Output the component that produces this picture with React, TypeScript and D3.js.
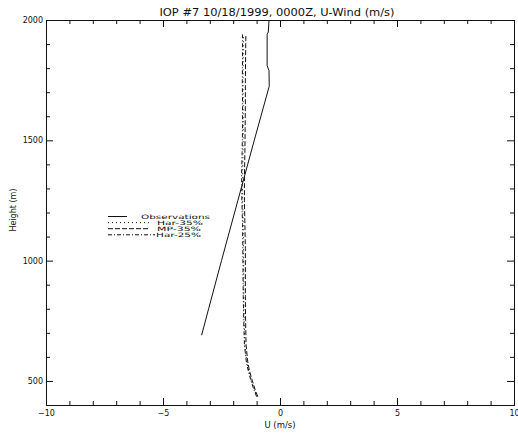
import React from 'react';
import * as d3 from 'd3';

// chart frame (px)
const W = 518, H = 434;
const margin = { top: 20, right: 4, bottom: 29, left: 46 };

// observations (solid)
const obsHeight = [2000, 1950, 1940, 1810, 1790, 1725, 1500, 1250, 1000, 800, 690];
const obsU = [-0.47, -0.5, -0.55, -0.55, -0.47, -0.46, -1.1, -1.8, -2.5, -3.05, -3.35];

// model runs share the same levels
const modelHeight = [435, 460, 500, 540, 580, 650, 750, 850, 950, 1050, 1150, 1250, 1350, 1450, 1550, 1650, 1750, 1850, 1940];
const har35U = [-0.98, -1.08, -1.22, -1.33, -1.42, -1.5, -1.53, -1.55, -1.55, -1.56, -1.57, -1.6, -1.6, -1.58, -1.57, -1.57, -1.58, -1.57, -1.56];
const mp35U = [-0.95, -1.05, -1.18, -1.3, -1.38, -1.45, -1.47, -1.48, -1.48, -1.48, -1.5, -1.52, -1.52, -1.5, -1.49, -1.48, -1.48, -1.47, -1.46];
const har25U = [-1.0, -1.1, -1.24, -1.35, -1.44, -1.52, -1.55, -1.57, -1.58, -1.59, -1.6, -1.63, -1.64, -1.62, -1.6, -1.6, -1.61, -1.6, -1.6];

const xMajor = [-10, -5, 0, 5, 10];
const xMinor = [-9, -8, -7, -6, -4, -3, -2, -1, 1, 2, 3, 4, 6, 7, 8, 9];
const yMajor = [500, 1000, 1500, 2000];
const yMinor = [600, 700, 800, 900, 1100, 1200, 1300, 1400, 1600, 1700, 1800, 1900];

const series = [
  { name: 'Observations', h: obsHeight, u: obsU, dash: null, len: 19, tx: 141, tw: 69 },
  { name: 'Har-35%', h: modelHeight, u: har35U, dash: '1,3', len: 44, tx: 157, tw: 46 },
  { name: 'MP-35%', h: modelHeight, u: mp35U, dash: '5,2', len: 42, tx: 157, tw: 44 },
  { name: 'Har-25%', h: modelHeight, u: har25U, dash: '4,2,1,2', len: 47, tx: 156, tw: 45 },
];

const font = '"DejaVu Sans", sans-serif';

function App() {
  const svgRef = React.useRef<SVGSVGElement>(null);

  React.useEffect(() => {
    document.body.style.margin = '0';
    const x = d3.scaleLinear().domain([-10, 10]).range([margin.left, W - margin.right]);
    const y = d3.scaleLinear().domain([400, 2000]).range([H - margin.bottom, margin.top]);

    const svg = d3.select(svgRef.current);
    svg.selectAll('*').remove();

    const styleAxis = (g: any) => {
      g.selectAll('path').attr('stroke', '#111').attr('stroke-width', 1);
      g.selectAll('line').attr('stroke', '#111');
      g.selectAll('text').attr('font-family', font).attr('font-size', 8).attr('fill', '#111');
    };

    const x0 = margin.left, x1 = W - margin.right, y0 = H - margin.bottom, y1 = margin.top;

    // bottom
    svg.append('g').attr('transform', `translate(0,${y0})`)
      .call(d3.axisBottom(x).tickValues(xMajor).tickSize(-7).tickSizeOuter(0).tickPadding(5))
      .call(styleAxis);
    svg.append('g').attr('transform', `translate(0,${y0})`)
      .call(d3.axisBottom(x).tickValues(xMinor).tickSize(-4).tickSizeOuter(0).tickFormat(() => ''))
      .call(styleAxis);
    // top
    svg.append('g').attr('transform', `translate(0,${y1})`)
      .call(d3.axisTop(x).tickValues(xMajor).tickSize(-7).tickSizeOuter(0).tickFormat(() => ''))
      .call(styleAxis);
    svg.append('g').attr('transform', `translate(0,${y1})`)
      .call(d3.axisTop(x).tickValues(xMinor).tickSize(-4).tickSizeOuter(0).tickFormat(() => ''))
      .call(styleAxis);
    // left
    svg.append('g').attr('transform', `translate(${x0},0)`)
      .call(d3.axisLeft(y).tickValues(yMajor).tickSize(-7).tickSizeOuter(0).tickPadding(3).tickFormat(d3.format('d')))
      .call(styleAxis);
    svg.append('g').attr('transform', `translate(${x0},0)`)
      .call(d3.axisLeft(y).tickValues(yMinor).tickSize(-4).tickSizeOuter(0).tickFormat(() => ''))
      .call(styleAxis);
    // right
    svg.append('g').attr('transform', `translate(${x1},0)`)
      .call(d3.axisRight(y).tickValues(yMajor).tickSize(-7).tickSizeOuter(0).tickFormat(() => ''))
      .call(styleAxis);
    svg.append('g').attr('transform', `translate(${x1},0)`)
      .call(d3.axisRight(y).tickValues(yMinor).tickSize(-4).tickSizeOuter(0).tickFormat(() => ''))
      .call(styleAxis);

    // profiles
    const line = d3.line<[number, number]>().x((d) => x(d[0])).y((d) => y(d[1]));
    series.forEach((s) => {
      const pts = s.u.map((u, i) => [u, s.h[i]] as [number, number]);
      svg.append('path')
        .attr('d', line(pts))
        .attr('fill', 'none')
        .attr('stroke', '#111')
        .attr('stroke-width', 1)
        .attr('stroke-dasharray', s.dash);
    });

    // titles
    svg.append('text').attr('x', 277).attr('y', 16).attr('text-anchor', 'middle')
      .attr('font-family', font).attr('font-size', 10).attr('fill', '#111')
      .attr('textLength', 235).attr('lengthAdjust', 'spacingAndGlyphs')
      .text('IOP #7 10/18/1999, 0000Z, U-Wind (m/s)');
    svg.append('text').attr('x', x(0)).attr('y', 428).attr('text-anchor', 'middle')
      .attr('font-family', font).attr('font-size', 8.5).attr('fill', '#111')
      .text('U (m/s)');
    svg.append('text').attr('transform', `translate(16,${y(1210)}) rotate(-90)`).attr('text-anchor', 'middle')
      .attr('font-family', font).attr('font-size', 8).attr('fill', '#111')
      .text('Height (m)');

    // legend
    const lg = svg.append('g');
    series.forEach((s, i) => {
      const ly = 216.5 + i * 6.1;
      lg.append('line').attr('x1', 108).attr('x2', 108 + s.len).attr('y1', ly).attr('y2', ly)
        .attr('stroke', '#111').attr('stroke-width', 1).attr('stroke-dasharray', s.dash);
      lg.append('text').attr('x', s.tx).attr('y', ly + 2.2)
        .attr('font-family', font).attr('font-size', 6).attr('fill', '#111')
        .attr('textLength', s.tw).attr('lengthAdjust', 'spacingAndGlyphs')
        .text(s.name);
    });
  }, []);

  return <svg ref={svgRef} width={W} height={H} style={{ display: 'block', background: '#fff' }} />;
}

export default App;
